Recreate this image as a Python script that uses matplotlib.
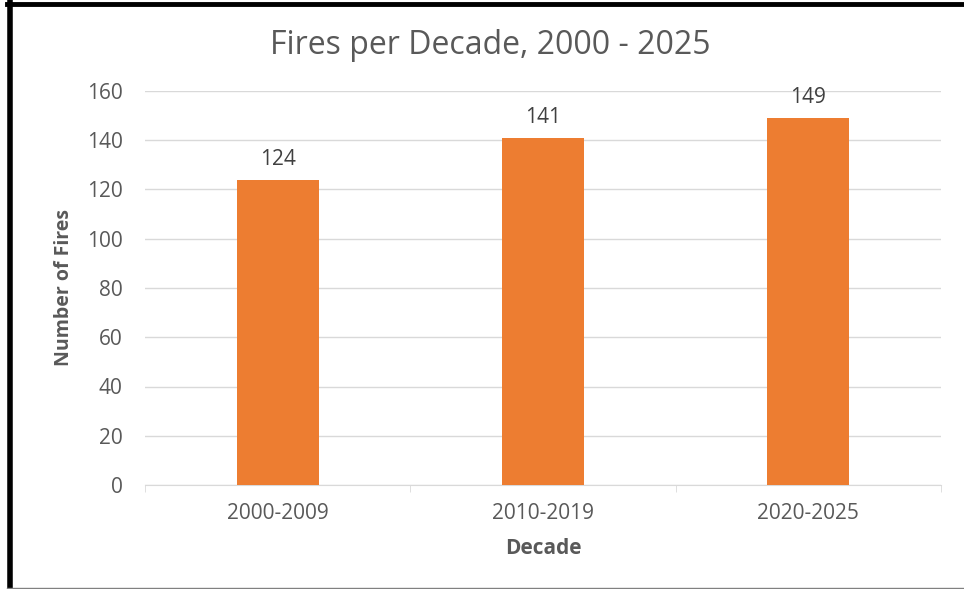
import matplotlib.pyplot as plt
from matplotlib.lines import Line2D

decades = ['2000-2009', '2010-2019', '2020-2025']
fires = [124, 141, 149]

plt.rcParams['font.family'] = ['Open Sans', 'DejaVu Sans']
gray = '#595959'

fig = plt.figure(figsize=(9.64, 5.89), dpi=100)
ax = fig.add_axes([145/964, 1 - 485/589, 796/964, 394/589])

x = range(len(decades))
bars = ax.bar(x, fires, width=0.31, color='#ED7D31', zorder=3)
for b, v in zip(bars, fires):
    ax.text(b.get_x() + b.get_width()/2, v + 4, str(v), ha='center', va='bottom',
            fontsize=15, color='#404040')

ax.set_xlim(-0.5, 2.5)
ax.set_ylim(0, 160)
ax.set_yticks(range(0, 161, 20))
ax.yaxis.grid(True, color='#D9D9D9', linewidth=1, zorder=0)
ax.tick_params(axis='y', length=0, pad=16, labelsize=15, labelcolor=gray)
ax.set_xticks(list(x))
ax.set_xticklabels(decades)
ax.set_xticks([-0.5, 0.5, 1.5, 2.5], minor=True)
ax.tick_params(axis='x', which='major', length=0, pad=13, labelsize=15, labelcolor=gray)
ax.tick_params(axis='x', which='minor', length=5, color='#D9D9D9', direction='out')
for s in ['top', 'right', 'left']:
    ax.spines[s].set_visible(False)
ax.spines['bottom'].set_color('#D9D9D9')

ax.set_ylabel('Number of Fires', fontsize=14, fontweight='bold', color=gray, labelpad=9)
ax.set_xlabel('Decade', fontsize=15, fontweight='bold', color=gray, labelpad=10)
fig.text(490/964, 1 - 45/589, 'Fires per Decade, 2000 - 2025', ha='center', va='center',
         fontsize=23, color=gray)

# frame around the picture
fig.add_artist(Line2D([9.5/964, 9.5/964], [0, 1 - 2/589], color='black', linewidth=4,
                      transform=fig.transFigure))
fig.add_artist(Line2D([7/964, 1], [1 - 4/589, 1 - 4/589], color='black', linewidth=3.5,
                      transform=fig.transFigure))
fig.add_artist(Line2D([7/964, 1], [1.5/589, 1.5/589], color='#808080', linewidth=1,
                      transform=fig.transFigure))

fig.savefig('out.png', dpi=100)
